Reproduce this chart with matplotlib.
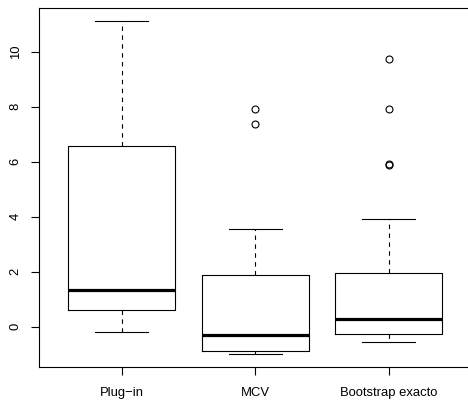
import matplotlib
matplotlib.use("Agg")
import matplotlib.pyplot as plt

plt.rcParams['font.family'] = ['Liberation Sans', 'DejaVu Sans']

categories = ["Plug\u2212in", "MCV", "Bootstrap exacto"]
whislo = [-0.19, -0.99, -0.55]
q1 = [0.61, -0.87, -0.27]
med = [1.33, -0.30, 0.28]
q3 = [6.58, 1.90, 1.96]
whishi = [11.10, 3.54, 3.93]
outliers = [[], [7.37, 7.90], [5.88, 5.90, 7.90, 9.73]]
yticks = [0, 2, 4, 6, 8, 10]

stats = []
for i, c in enumerate(categories):
    stats.append(dict(label=c, whislo=whislo[i], q1=q1[i], med=med[i],
                      q3=q3[i], whishi=whishi[i], fliers=outliers[i]))

fig = plt.figure(figsize=(4.68, 4.04), dpi=100)
W, H = 468, 404
left, right, top, bottom = 39, 471.5, 8, 367.3
ax = fig.add_axes([left / W, 1 - bottom / H, (right - left) / W, (bottom - top) / H])

lw = 0.8
ax.bxp(stats, positions=[1, 2, 3], widths=0.8, capwidths=0.4,
       boxprops=dict(color='black', linewidth=lw),
       whiskerprops=dict(color='black', linewidth=lw, linestyle=(0, (4, 4))),
       capprops=dict(color='black', linewidth=lw),
       medianprops=dict(color='black', linewidth=2.3, solid_capstyle='butt'),
       flierprops=dict(marker='o', markerfacecolor='none', markeredgecolor='black',
                       markersize=5, markeredgewidth=0.8, linestyle='none'))

ax.set_xlim(0.38, 3.62)
ax.set_ylim(-1.47, 11.58)
ax.set_yticks(yticks)
ax.set_yticklabels([str(v) for v in yticks], rotation=90, va='center')
ax.set_xticks([1, 2, 3])
ax.set_xticklabels(categories)
ax.tick_params(axis='both', length=5.5, width=0.8, labelsize=9.4, color='black')
ax.tick_params(axis='x', pad=9)
ax.tick_params(axis='y', pad=7)
for s in ax.spines.values():
    s.set_linewidth(0.8)

fig.savefig("out.png", dpi=100)
